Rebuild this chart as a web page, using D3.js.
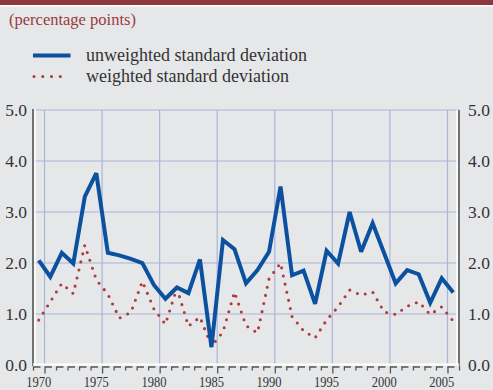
<!DOCTYPE html>
<html>
<head>
<meta charset="utf-8">
<script src="https://cdn.jsdelivr.net/npm/d3@7/dist/d3.min.js"></script>
<style>
  html, body { margin: 0; padding: 0; background: #e6e7e9; }
  svg { display: block; }
  text { font-family: "Liberation Serif", "Times New Roman", serif; }
</style>
</head>
<body>
<svg id="chart" width="493" height="390"></svg>
<script>
// Annual cross-country dispersion, 1970-2006 (percentage points)
const years = [1970, 1971, 1972, 1973, 1974, 1975, 1976, 1977, 1978, 1979,
               1980, 1981, 1982, 1983, 1984, 1985, 1986, 1987, 1988, 1989,
               1990, 1991, 1992, 1993, 1994, 1995, 1996, 1997, 1998, 1999,
               2000, 2001, 2002, 2003, 2004, 2005, 2006];
const unweighted = [2.05, 1.73, 2.20, 1.99, 3.30, 3.76, 2.20, 2.15, 2.08, 2.00,
                    1.57, 1.30, 1.52, 1.41, 2.07, 0.35, 2.45, 2.27, 1.60, 1.86,
                    2.22, 3.50, 1.76, 1.85, 1.20, 2.24, 1.99, 3.00, 2.22, 2.78,
                    2.19, 1.60, 1.86, 1.78, 1.22, 1.70, 1.42];
const weighted = [0.88, 1.24, 1.60, 1.40, 2.35, 1.67, 1.39, 0.92, 1.03, 1.64,
                  1.10, 0.80, 1.51, 0.76, 0.94, 0.37, 0.65, 1.43, 0.77, 0.63,
                  1.69, 2.00, 0.95, 0.67, 0.53, 0.88, 1.14, 1.47, 1.37, 1.43,
                  1.04, 0.99, 1.15, 1.24, 0.99, 1.14, 0.86];
const yTicks = [0, 1, 2, 3, 4, 5];
const xLabelYears = [1970, 1975, 1980, 1985, 1990, 1995, 2000, 2005];
const seriesNames = ["unweighted standard deviation", "weighted standard deviation"];
const unitLabel = "(percentage points)";

const blue = "#0b519f";
const red = "#b23a3b";
const grid = "#aab4dc";
const axisDark = "#555555";

const svg = d3.select("#chart");

// header band
svg.append("rect").attr("x", 0).attr("y", 0).attr("width", 493).attr("height", 5).attr("fill", "#8c383d");
svg.append("rect").attr("x", 0).attr("y", 5).attr("width", 493).attr("height", 1.5).attr("fill", "#ffffff");

svg.append("text").attr("x", 9).attr("y", 25)
  .attr("font-size", 16.5).attr("fill", "#9b3b41").text(unitLabel);

// legend
svg.append("line").attr("x1", 33).attr("x2", 70.5).attr("y1", 55.5).attr("y2", 55.5)
  .attr("stroke", blue).attr("stroke-width", 4);
svg.append("line").attr("x1", 34).attr("x2", 69).attr("y1", 76.5).attr("y2", 76.5)
  .attr("stroke", red).attr("stroke-width", 3.1).attr("stroke-linecap", "round")
  .attr("stroke-dasharray", "0 8.75");
svg.append("text").attr("x", 86).attr("y", 61).attr("font-size", 18).attr("fill", "#333")
  .text(seriesNames[0]);
svg.append("text").attr("x", 86).attr("y", 82).attr("font-size", 18).attr("fill", "#333")
  .text(seriesNames[1]);

// scales
const x = d3.scaleLinear().domain([1969.5, 2006.5]).range([33, 459]);
const y = d3.scaleLinear().domain([0, 5]).range([365, 110]);

// grid
const g = svg.append("g");
g.selectAll("line.h").data(yTicks.filter(d => d > 0)).join("line")
  .attr("x1", x(1969.5)).attr("x2", x(2006.5))
  .attr("y1", d => y(d)).attr("y2", d => y(d))
  .attr("stroke", grid).attr("stroke-width", 1.2);
g.selectAll("line.v").data(xLabelYears).join("line")
  .attr("x1", d => x(d + 0.5)).attr("x2", d => x(d + 0.5))
  .attr("y1", y(5)).attr("y2", y(0))
  .attr("stroke", grid).attr("stroke-width", 1.2);

// frame
svg.append("line").attr("x1", x(1969.5) + 2).attr("x2", x(1969.5) + 2).attr("y1", y(5) - 1).attr("y2", y(0) + 1)
  .attr("stroke", "#ffffff").attr("stroke-width", 1.5);
svg.append("line").attr("x1", x(1969.5)).attr("x2", x(1969.5)).attr("y1", y(5) - 1).attr("y2", y(0) + 1)
  .attr("stroke", axisDark).attr("stroke-width", 1.6);
svg.append("line").attr("x1", x(2006.5) - 2).attr("x2", x(2006.5) - 2).attr("y1", y(5)).attr("y2", y(0) + 1)
  .attr("stroke", "#ffffff").attr("stroke-width", 1.5);
svg.append("line").attr("x1", x(2006.5)).attr("x2", x(2006.5)).attr("y1", y(5)).attr("y2", y(0) + 1)
  .attr("stroke", axisDark).attr("stroke-width", 1.6);
svg.append("line").attr("x1", x(1969.5)).attr("x2", x(2006.5)).attr("y1", y(0) - 0.5).attr("y2", y(0) - 0.5)
  .attr("stroke", "#ffffff").attr("stroke-width", 1.8);

// bottom axis: year ticks at period boundaries
const xAxis = d3.axisBottom(x)
  .tickValues(d3.range(1969.5, 2006.6, 1))
  .tickSize(4).tickFormat("").tickSizeOuter(0);
const ax = svg.append("g").attr("transform", `translate(0,${y(0) + 1.5})`).call(xAxis);
ax.select(".domain").attr("stroke", axisDark).attr("stroke-width", 1.3).attr("stroke-dasharray", "7 4.5");
ax.selectAll(".tick line").attr("stroke", axisDark).attr("stroke-width", 1.3);
ax.selectAll(".tick line").filter(d => xLabelYears.includes(d - 0.5)).attr("y2", 7);

svg.selectAll("text.xl").data(xLabelYears).join("text")
  .attr("class", "xl")
  .attr("x", d => x(d)).attr("y", 387)
  .attr("text-anchor", "middle").attr("font-size", 15).attr("fill", "#333")
  .attr("textLength", 25).attr("lengthAdjust", "spacingAndGlyphs")
  .text(d => d);

// y labels on both sides
svg.selectAll("text.yl").data(yTicks).join("text")
  .attr("class", "yl")
  .attr("x", 27).attr("y", d => y(d) + 6)
  .attr("text-anchor", "end").attr("font-size", 17.5).attr("fill", "#333")
  .text(d => d.toFixed(1));
svg.selectAll("text.yr").data(yTicks).join("text")
  .attr("class", "yr")
  .attr("x", 468).attr("y", d => y(d) + 6)
  .attr("text-anchor", "start").attr("font-size", 17.5).attr("fill", "#333")
  .text(d => d.toFixed(1));

// series
const lineU = d3.line().x((d, i) => x(years[i])).y(d => y(d));
svg.append("path").datum(weighted)
  .attr("d", lineU)
  .attr("fill", "none").attr("stroke", red).attr("stroke-width", 3.1)
  .attr("stroke-linecap", "round").attr("stroke-dasharray", "0 8.3");
svg.append("path").datum(unweighted)
  .attr("d", lineU)
  .attr("fill", "none").attr("stroke", blue).attr("stroke-width", 4)
  .attr("stroke-linejoin", "miter").attr("stroke-miterlimit", 3);
</script>
</body>
</html>
